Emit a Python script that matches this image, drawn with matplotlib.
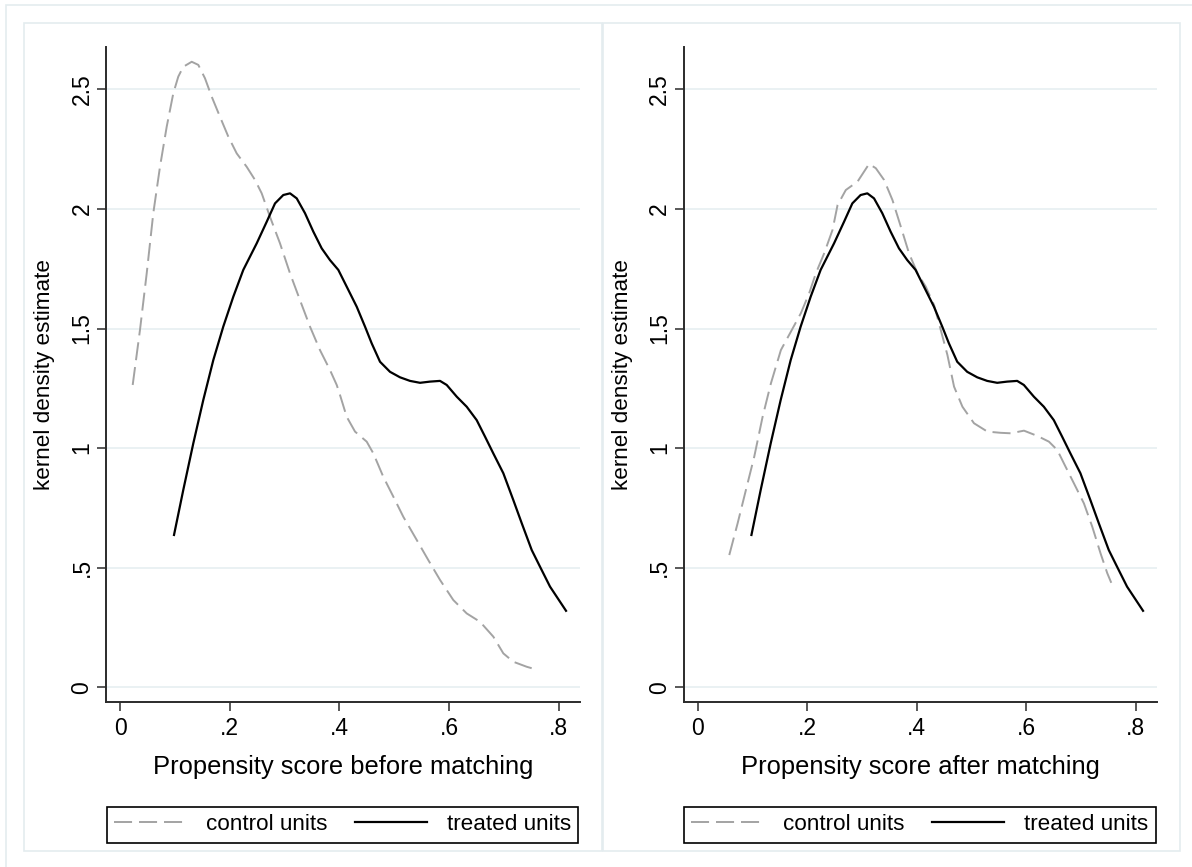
import matplotlib.pyplot as plt
from matplotlib.patches import Rectangle

plt.rcParams.update({
    'font.family': ['Liberation Sans', 'DejaVu Sans'],
    'lines.scale_dashes': False,
    'axes.linewidth': 1.4,
    'axes.edgecolor': '#2b2b2b',
})

# kernel density of the propensity score, control units before matching
ctrl_before_x = [0.0228, 0.0361, 0.0484, 0.0604, 0.0726, 0.0849, 0.0969, 0.106, 0.1151,
                 0.1305, 0.1425, 0.1547, 0.167, 0.1821, 0.1973, 0.2126, 0.2308, 0.246,
                 0.2582, 0.2733, 0.2916, 0.3098, 0.328, 0.3463, 0.3645, 0.3827, 0.3951,
                 0.4011, 0.4133, 0.4285, 0.4498, 0.4619, 0.4801, 0.4984, 0.5166, 0.5411,
                 0.5622, 0.5836, 0.6078, 0.6323, 0.6566, 0.6808, 0.6991, 0.7173, 0.7418,
                 0.7629]
ctrl_before_y = [1.264, 1.494, 1.731, 1.982, 2.176, 2.344, 2.483, 2.553, 2.594,
                 2.615, 2.602, 2.546, 2.469, 2.385, 2.302, 2.232, 2.176, 2.121,
                 2.065, 1.967, 1.856, 1.731, 1.619, 1.508, 1.41, 1.327, 1.264,
                 1.222, 1.131, 1.069, 1.027, 0.978, 0.88, 0.797, 0.713, 0.616,
                 0.532, 0.449, 0.365, 0.309, 0.274, 0.212, 0.142, 0.107, 0.086,
                 0.072]

# control units after matching
ctrl_after_x = [0.0577, 0.073, 0.0881, 0.1033, 0.1186, 0.1338, 0.152, 0.1703, 0.1885,
                0.2036, 0.2159, 0.231, 0.2463, 0.2555, 0.2706, 0.292, 0.3131, 0.3254,
                0.3405, 0.3558, 0.371, 0.3861, 0.4015, 0.4166, 0.4318, 0.444, 0.4562,
                0.4683, 0.4836, 0.5047, 0.5292, 0.5535, 0.5717, 0.596, 0.6204, 0.6416,
                0.6569, 0.669, 0.6872, 0.7055, 0.7208, 0.7359, 0.7482, 0.7555]
ctrl_after_y = [0.553, 0.686, 0.825, 0.964, 1.131, 1.271, 1.41, 1.487, 1.564,
                1.647, 1.731, 1.814, 1.912, 2.016, 2.079, 2.114, 2.188, 2.17,
                2.121, 2.037, 1.926, 1.814, 1.731, 1.675, 1.598, 1.494, 1.389,
                1.257, 1.173, 1.104, 1.069, 1.064, 1.062, 1.073, 1.051, 1.027,
                0.992, 0.936, 0.853, 0.769, 0.671, 0.56, 0.477, 0.437]

# treated units (same in both panels)
treated_x = [0.0982, 0.1151, 0.1334, 0.1516, 0.1699, 0.1881, 0.2064, 0.2246, 0.2491,
             0.2673, 0.2825, 0.2976, 0.3099, 0.3221, 0.3372, 0.3524, 0.3677, 0.3828,
             0.398, 0.4133, 0.4316, 0.4467, 0.4589, 0.4741, 0.4923, 0.5106, 0.5288,
             0.5471, 0.5653, 0.5836, 0.5958, 0.6141, 0.6323, 0.6505, 0.6657, 0.6808,
             0.6991, 0.7173, 0.7327, 0.7509, 0.7661, 0.7843, 0.8135]
treated_y = [0.637, 0.825, 1.02, 1.201, 1.368, 1.508, 1.633, 1.745, 1.856,
             1.946, 2.023, 2.058, 2.065, 2.044, 1.982, 1.905, 1.835, 1.786,
             1.745, 1.675, 1.591, 1.508, 1.438, 1.361, 1.319, 1.296, 1.281,
             1.273, 1.278, 1.281, 1.264, 1.215, 1.173, 1.117, 1.048, 0.978,
             0.895, 0.783, 0.686, 0.574, 0.504, 0.421, 0.32]

xticks = [0, 0.2, 0.4, 0.6, 0.8]
xticklabels = ['0', '.2', '.4', '.6', '.8']
yticks = [0, 0.5, 1, 1.5, 2, 2.5]
yticklabels = ['0', '.5', '1', '1.5', '2', '2.5']

W, H = 1192, 867
fig = plt.figure(figsize=(W / 100, H / 100), dpi=100)

def frac(x0, y0, x1, y1):
    # pixel box (top-left origin) -> figure fraction rect
    return [x0 / W, 1 - y1 / H, (x1 - x0) / W, (y1 - y0) / H]

border = '#e4ecef'
for x0, y0, x1, y1 in [(6, 4.7, 1200, 880), (24.3, 22.7, 601.5, 850.7), (603, 22.7, 1180, 850.7)]:
    r = frac(x0, y0, x1, y1)
    fig.patches.append(Rectangle((r[0], r[1]), r[2], r[3], transform=fig.transFigure,
                                 fill=False, edgecolor=border, lw=1.2))

panels = [
    (frac(106, 46.7, 580, 701.7), ctrl_before_x, ctrl_before_y,
     'Propensity score before matching'),
    (frac(683.5, 46.7, 1157, 701.7), ctrl_after_x, ctrl_after_y,
     'Propensity score after matching'),
]

for rect, cx, cy, xlabel in panels:
    ax = fig.add_axes(rect)
    for y in yticks:
        ax.axhline(y, color='#e8f0f2', lw=1.3, zorder=0)
    ax.plot(cx, cy, color='#a3a3a3', lw=1.4, dashes=(13, 5), label='control units')
    ax.plot(treated_x, treated_y, color='black', lw=1.6, label='treated units')

    ax.set_xlim(-0.0259, 0.839)
    ax.set_ylim(-0.060, 2.678)
    ax.set_xticks(xticks)
    ax.set_xticklabels(xticklabels)
    ax.set_yticks(yticks)
    ax.set_yticklabels(yticklabels, rotation=90, va='center')
    ax.tick_params(length=6.5, width=1.1, labelsize=16.5, color='#2b2b2b')
    ax.tick_params(axis='y', pad=2.5)
    ax.tick_params(axis='x', pad=4.5)
    ax.spines['top'].set_visible(False)
    ax.spines['right'].set_visible(False)

    ax.set_xlabel(xlabel, fontsize=18.4, labelpad=11)
    ax.set_ylabel('kernel density estimate', fontsize=16.2, labelpad=11)

    leg = ax.legend(loc='center', bbox_to_anchor=(0.499, -0.188), ncol=2, fontsize=16.2,
                    handlelength=3.2, handletextpad=0.9, columnspacing=1.2,
                    borderpad=0.32, borderaxespad=0, fancybox=False,
                    edgecolor='black', framealpha=1)
    leg.get_frame().set_linewidth(1.2)

fig.savefig('out.png', dpi=100)
